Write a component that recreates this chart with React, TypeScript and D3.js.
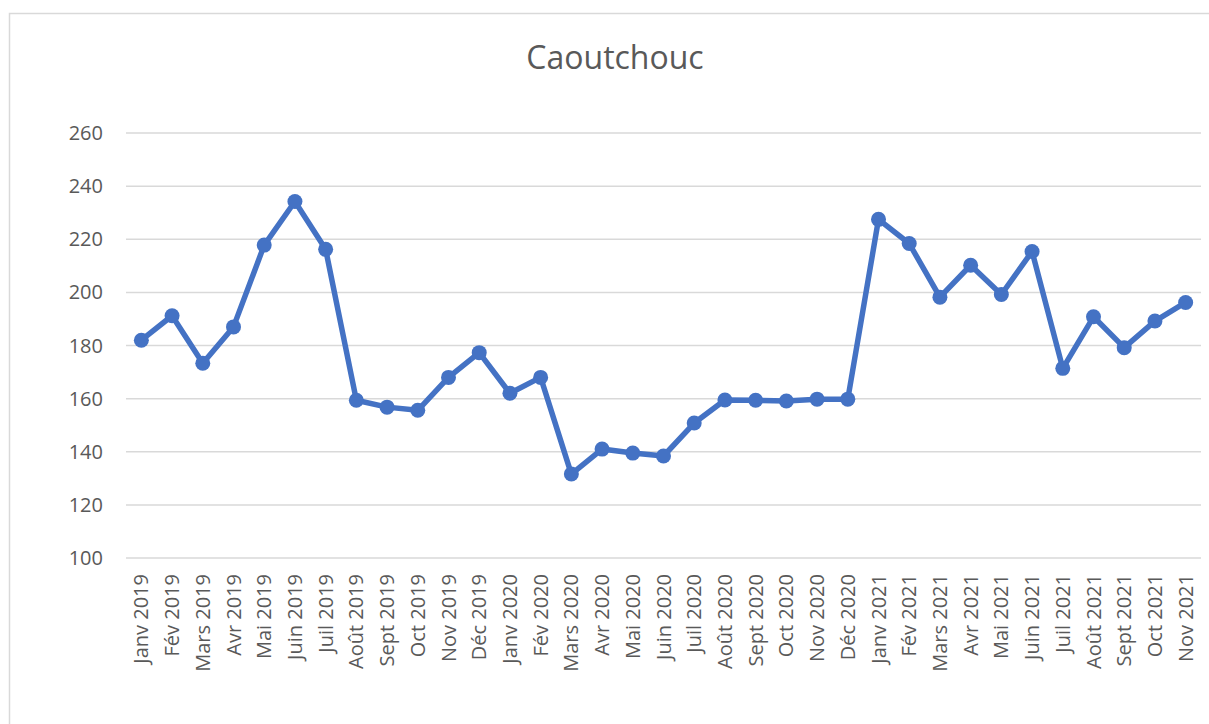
import { useEffect, useRef } from 'react'
import * as d3 from 'd3'

const months = [
  'Janv 2019', 'Fév 2019', 'Mars 2019', 'Avr 2019', 'Mai 2019', 'Juin 2019', 'Juil 2019',
  'Août 2019', 'Sept 2019', 'Oct 2019', 'Nov 2019', 'Déc 2019',
  'Janv 2020', 'Fév 2020', 'Mars 2020', 'Avr 2020', 'Mai 2020', 'Juin 2020', 'Juil 2020',
  'Août 2020', 'Sept 2020', 'Oct 2020', 'Nov 2020', 'Déc 2020',
  'Janv 2021', 'Fév 2021', 'Mars 2021', 'Avr 2021', 'Mai 2021', 'Juin 2021', 'Juil 2021',
  'Août 2021', 'Sept 2021', 'Oct 2021', 'Nov 2021',
]

const prices = [
  182, 191.2, 173.3, 187, 217.8, 234.2, 216.2, 159.4, 156.8, 155.6, 168, 177.3,
  162, 168, 131.6, 141, 139.5, 138.4, 150.8, 159.5, 159.4, 159.1, 159.8, 159.8,
  227.5, 218.4, 198.2, 210.2, 199.2, 215.4, 171.4, 190.8, 179.2, 189.2, 196.2,
]

const yTicks = [100, 120, 140, 160, 180, 200, 220, 240, 260]

export default function App() {
  const svgRef = useRef<SVGSVGElement>(null)

  useEffect(() => {
    if (!svgRef.current) return
    const svg = d3.select(svgRef.current)
    svg.selectAll('*').remove()

    const width = 1209
    const height = 724
    const margin = { top: 133, right: 8, bottom: 166, left: 126 }
    const innerWidth = width - margin.left - margin.right
    const innerHeight = height - margin.top - margin.bottom
    const font = '"Open Sans", "Noto Sans", sans-serif'
    const textColor = '#595959'

    svg.append('rect')
      .attr('width', width)
      .attr('height', height)
      .attr('fill', '#ffffff')

    // chart area outline
    svg.append('rect')
      .attr('x', 9.5)
      .attr('y', 13.5)
      .attr('width', 1300)
      .attr('height', 900)
      .attr('fill', 'none')
      .attr('stroke', '#d9d9d9')
      .attr('stroke-width', 1.5)

    svg.append('text')
      .attr('x', 615)
      .attr('y', 69)
      .attr('text-anchor', 'middle')
      .attr('font-family', font)
      .attr('font-size', '32px')
      .attr('fill', textColor)
      .text('Caoutchouc')

    const g = svg.append('g')
      .attr('transform', `translate(${margin.left},${margin.top})`)

    const x = d3.scaleBand<string>()
      .domain(months)
      .range([0, innerWidth])

    const y = d3.scaleLinear()
      .domain([100, 260])
      .range([innerHeight, 0])

    // gridlines
    g.selectAll('line.grid')
      .data(yTicks)
      .join('line')
      .attr('class', 'grid')
      .attr('x1', 0)
      .attr('x2', innerWidth)
      .attr('y1', d => y(d))
      .attr('y2', d => y(d))
      .attr('stroke', '#d9d9d9')
      .attr('stroke-width', 1.5)

    // y labels
    g.selectAll('text.ytick')
      .data(yTicks)
      .join('text')
      .attr('class', 'ytick')
      .attr('x', -23)
      .attr('y', d => y(d))
      .attr('dy', '0.35em')
      .attr('text-anchor', 'end')
      .attr('font-family', font)
      .attr('font-size', '20px')
      .attr('fill', textColor)
      .text(d => d)

    // x labels
    g.selectAll('text.xtick')
      .data(months)
      .join('text')
      .attr('class', 'xtick')
      .attr('transform', d => `translate(${x(d)! + x.bandwidth() / 2},${innerHeight + 16}) rotate(-90)`)
      .attr('dy', '0.35em')
      .attr('text-anchor', 'end')
      .attr('font-family', font)
      .attr('font-size', '20px')
      .attr('fill', textColor)
      .text(d => d)

    const cx = (i: number) => x(months[i])! + x.bandwidth() / 2

    const line = d3.line<number>()
      .x((_, i) => cx(i))
      .y(d => y(d))

    g.append('path')
      .datum(prices)
      .attr('d', line)
      .attr('fill', 'none')
      .attr('stroke', '#4472c4')
      .attr('stroke-width', 5.5)
      .attr('stroke-linejoin', 'round')
      .attr('stroke-linecap', 'round')

    g.selectAll('circle')
      .data(prices)
      .join('circle')
      .attr('cx', (_, i) => cx(i))
      .attr('cy', d => y(d))
      .attr('r', 7.5)
      .attr('fill', '#4472c4')
  }, [])

  return (
    <div style={{ position: 'absolute', left: 0, top: 0 }}>
      <svg ref={svgRef} width={1209} height={724} style={{ display: 'block' }} />
    </div>
  )
}
